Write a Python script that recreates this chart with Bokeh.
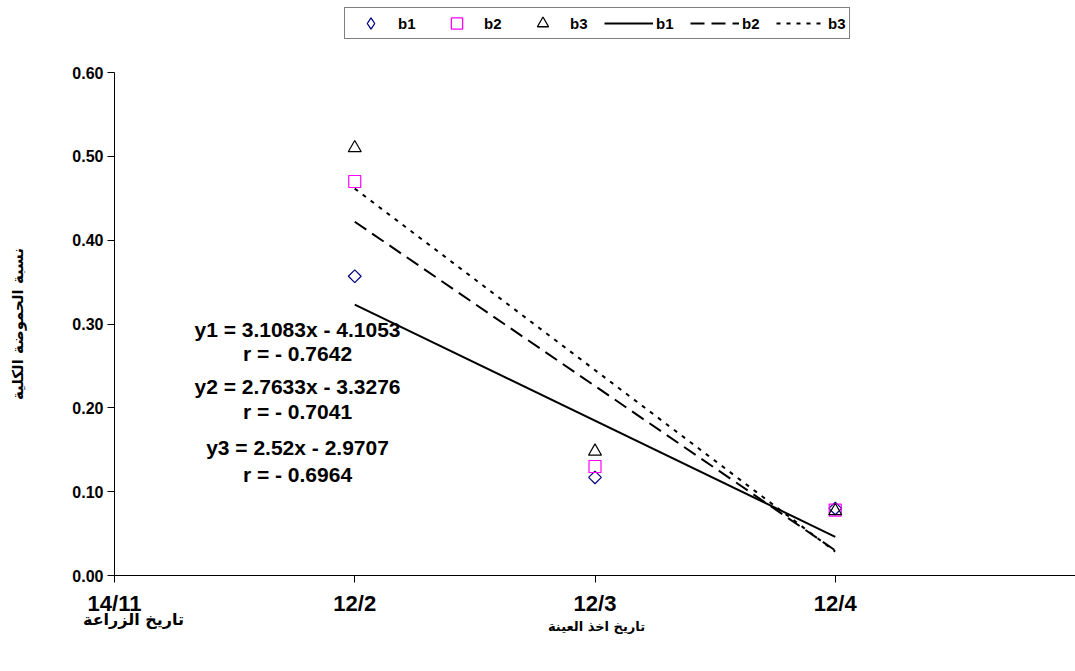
import numpy as np
from bokeh.plotting import figure
from bokeh.models import (Range1d, FixedTicker, Legend, LegendItem, Label,
                          ColumnDataSource, LinearAxis)
from bokeh.embed import file_html
from bokeh.resources import INLINE

# ---- data ----
x_pos = [1, 2, 3]
tick_positions = [0, 1, 2, 3]
tick_labels = ["14/11", "12/2", "12/3", "12/4"]
b1 = [0.357, 0.117, 0.080]
b2 = [0.470, 0.130, 0.078]
b3 = [0.510, 0.148, 0.077]
series_names = ["b1", "b2", "b3"]
eq_texts = ["y1 = 3.1083x - 4.1053", "r = - 0.7642",
            "y2 = 2.7633x - 3.3276", "r = - 0.7041",
            "y3 = 2.52x - 2.9707", "r = - 0.6964"]
y_ticks = [0, 0.1, 0.2, 0.3, 0.4, 0.5, 0.6]
y_title = "نسبة الحموضة الكلية"
x_title = "تاريخ اخذ العينة"
planting_label = "تاريخ الزراعة"

FONT = "Liberation Sans"
AR_FONT = "DejaVu Sans"

W, H = 1075, 671
X_MAX, Y_MAX = 4, 0.6
# pixel placement of the plotting area (axis origin / ends)
AX_LEFT, AX_RIGHT, AX_TOP, AX_BOTTOM = 114, 1075, 72, 575
xs = (AX_RIGHT - AX_LEFT) / X_MAX
ys = (AX_BOTTOM - AX_TOP) / Y_MAX

p = figure(width=W, height=H, output_backend="svg", toolbar_location=None,
           x_range=Range1d(-AX_LEFT / xs, X_MAX + (W - AX_RIGHT) / xs),
           y_range=Range1d(-(H - AX_BOTTOM) / ys, Y_MAX + AX_TOP / ys),
           x_axis_location=None, y_axis_location=None,
           min_border=0, min_border_left=0, min_border_right=0,
           min_border_top=0, min_border_bottom=0)
p.outline_line_color = None
p.grid.visible = False
p.background_fill_color = "white"
p.border_fill_color = "white"
# range used only by the legend-sample renderers (maps them outside the frame)
p.extra_y_ranges = {"legend_only": Range1d(10, 11)}

yax = LinearAxis(fixed_location=0, bounds=(0, Y_MAX),
                 ticker=FixedTicker(ticks=y_ticks),
                 major_label_overrides={v: f"{v:.2f}" for v in y_ticks})
xax = LinearAxis(fixed_location=0, bounds=(0, X_MAX),
                 ticker=FixedTicker(ticks=tick_positions),
                 major_label_overrides={t: l for t, l in zip(tick_positions, tick_labels)})
for ax in (xax, yax):
    ax.minor_tick_line_color = None
    ax.major_tick_in = 0
    ax.major_tick_out = 7
    ax.axis_line_color = "black"
    ax.major_tick_line_color = "black"
    ax.major_label_text_font = FONT
    ax.major_label_text_font_style = "bold"
    ax.major_label_text_color = "black"
yax.major_label_text_font_size = "16px"
yax.major_label_standoff = 4
xax.major_label_text_font_size = "22px"
xax.major_label_standoff = 8
p.add_layout(yax, "left")
p.add_layout(xax, "below")

# axis titles and the planting-date note
p.add_layout(Label(x=-97 / xs, y=Y_MAX / 2, text=y_title, angle=np.pi / 2,
                   text_align="center", text_baseline="middle",
                   text_font=AR_FONT, text_font_style="bold",
                   text_font_size="15px", text_color="black"))
p.add_layout(Label(x=482 / xs, y=-51 / ys, text=x_title,
                   text_align="center", text_baseline="middle",
                   text_font=AR_FONT, text_font_style="bold",
                   text_font_size="13px", text_color="black"))
p.add_layout(Label(x=19 / xs, y=-44 / ys, text=planting_label,
                   text_align="center", text_baseline="middle",
                   text_font=AR_FONT, text_font_style="bold",
                   text_font_size="16px", text_color="black"))

# scatter points and trend lines
marker_specs = [("square", np.pi / 4, 9, "#000080"),
                ("square", 0, 12, "#FF00FF"),
                ("triangle", 0, 13, "black")]
legend_markers = ["diamond", "square", "triangle"]
dashes = ["solid", "14 7", "4 6"]
scatter_r, proxy_r, line_r = [], [], []
for vals, (mk, ang, sz, col), lmk, dash in zip([b1, b2, b3], marker_specs,
                                               legend_markers, dashes):
    src = ColumnDataSource(dict(x=x_pos, y=vals))
    r = p.scatter("x", "y", source=src, marker=mk, angle=ang, size=sz,
                  fill_color=None, line_color=col, line_width=1.2)
    scatter_r.append(r)
    # legend-sample renderer: same data on a range that keeps it out of view
    pr = p.scatter("x", "y", source=src, y_range_name="legend_only",
                   marker=lmk, size=sz, fill_color=None,
                   line_color=col, line_width=1.3)
    proxy_r.append(pr)
    k, c = np.polyfit(x_pos, vals, 1)
    fx = [x_pos[0], x_pos[-1]]
    fy = [k * fx[0] + c, k * fx[1] + c]
    line_r.append(p.line(fx, fy, line_color="black", line_width=2, line_dash=dash))

# equation labels
eq_px_y = [329, 353, 386, 411, 447, 474]
for t, py in zip(eq_texts, eq_px_y):
    p.add_layout(Label(x=(297 - AX_LEFT) / xs, y=(AX_BOTTOM - py) / ys, text=t,
                       text_align="center", text_baseline="middle",
                       text_font=FONT, text_font_style="bold",
                       text_font_size="21px", text_color="black"))

# legend
items = [LegendItem(label=n, renderers=[r]) for n, r in zip(series_names, proxy_r)]
items += [LegendItem(label=n, renderers=[r]) for n, r in zip(series_names, line_r)]
legend = Legend(items=items, orientation="horizontal", location=(344, H - 39),
                label_text_font=FONT, label_text_font_style="bold",
                label_text_font_size="15px", label_text_color="black",
                glyph_width=49, glyph_height=28, spacing=14, padding=1,
                label_standoff=3, margin=0,
                border_line_color="black", border_line_width=1,
                background_fill_color="white", background_fill_alpha=1)
p.add_layout(legend)

open("out.html", "w").write(file_html(p, INLINE))
